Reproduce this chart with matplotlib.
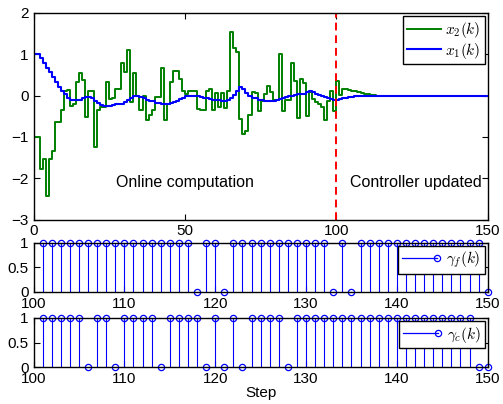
import matplotlib
matplotlib.use('Agg')
import matplotlib.pyplot as plt
from matplotlib.lines import Line2D
from matplotlib.legend_handler import HandlerBase

plt.rcParams['font.family'] = ['Liberation Sans', 'DejaVu Sans']
plt.rcParams['mathtext.fontset'] = 'cm'
plt.rcParams['font.size'] = 11

# state trajectories, k = 0..150
steps = list(range(151))
x2 = [
    -1.00, -1.00, -1.77, -1.53, -2.44, -1.53, -1.35, -0.65, -0.65, -0.36,
    0.10, 0.14, -0.24, -0.20, 0.32, 0.54, 0.38, -0.52, 0.12, 0.12,
    -1.25, -0.36, -0.27, -0.27, 0.32, -0.08, -0.06, 0.16, 0.16, 0.80,
    0.56, 1.10, -0.16, 0.54, -0.02, -0.35, 0.00, -0.59, -0.48, -0.35,
    -0.04, -0.04, 0.67, -0.59, -0.20, 0.32, 0.59, 0.59, 0.40, 0.10,
    0.05, 0.10, 0.12, 0.12, -0.32, -0.36, -0.36, 0.12, 0.16, -0.36,
    0.06, -0.28, 0.06, -0.30, 0.12, 1.53, 1.15, 1.05, -0.56, -0.93,
    -0.85, -0.48, 0.08, 0.06, -0.38, -0.12, 0.04, 0.24, 0.08, -0.10,
    -0.10, 1.00, -0.38, -0.10, -0.10, 0.80, 0.36, -0.54, 0.40, 0.30,
    -0.50, 0.08, -0.08, -0.16, -0.20, -0.28, -0.60, -0.12, 0.10, -0.38,
    0.35, 0.02, 0.17, 0.16, 0.14, 0.12, 0.10, 0.08, 0.06, 0.04,
    0.03, 0.02, 0.01, 0.00, 0.00, 0.00, 0.00, 0.00, 0.00, 0.00,
    0.00, 0.00, 0.00, 0.00, 0.00, 0.00, 0.00, 0.00, 0.00, 0.00,
    0.00, 0.00, 0.00, 0.00, 0.00, 0.00, 0.00, 0.00, 0.00, 0.00,
    0.00, 0.00, 0.00, 0.00, 0.00, 0.00, 0.00, 0.00, 0.00, 0.00,
    0.00,
]
x1 = [
    1.00, 1.00, 0.90, 0.80, 0.68, 0.57, 0.45, 0.33, 0.22, 0.12,
    0.05, -0.05, -0.10, -0.10, -0.10, -0.10, -0.06, -0.03, -0.03, -0.06,
    -0.12, -0.18, -0.22, -0.25, -0.25, -0.24, -0.22, -0.20, -0.20, -0.20,
    -0.16, -0.10, -0.06, -0.02, -0.02, -0.03, -0.05, -0.10, -0.12, -0.14,
    -0.18, -0.18, -0.20, -0.20, -0.20, -0.17, -0.15, -0.12, -0.08, -0.06,
    -0.02, -0.02, 0.00, 0.00, -0.02, -0.03, -0.05, -0.06, -0.08, -0.10,
    -0.10, -0.10, -0.12, -0.12, -0.10, -0.05, 0.02, 0.12, 0.22, 0.15,
    0.06, -0.02, -0.05, -0.06, -0.10, -0.10, -0.12, -0.12, -0.12, -0.12,
    -0.10, -0.08, -0.06, -0.04, -0.02, 0.00, 0.02, 0.04, 0.05, 0.05,
    0.08, 0.10, 0.08, 0.05, 0.02, 0.00, -0.03, -0.06, -0.08, -0.10,
    -0.10, -0.08, -0.06, -0.05, -0.04, -0.03, -0.02, -0.015, -0.01, -0.005,
    0.00, 0.00, 0.00, 0.00, 0.00, 0.00, 0.00, 0.00, 0.00, 0.00,
    0.00, 0.00, 0.00, 0.00, 0.00, 0.00, 0.00, 0.00, 0.00, 0.00,
    0.00, 0.00, 0.00, 0.00, 0.00, 0.00, 0.00, 0.00, 0.00, 0.00,
    0.00, 0.00, 0.00, 0.00, 0.00, 0.00, 0.00, 0.00, 0.00, 0.00,
    0.00,
]
switch_step = 100

# packet arrival indicators, k = 101..150
k_gamma = list(range(101, 151))
gamma_f = [1, 1, 1, 1, 1, 1, 1, 1, 1, 1,
           1, 1, 1, 1, 1, 1, 1, 0, 1, 1,
           0, 1, 1, 1, 1, 1, 1, 1, 1, 1,
           1, 1, 0, 1, 0, 1, 1, 1, 1, 1,
           1, 1, 1, 1, 1, 1, 1, 1, 1, 0]
gamma_c = [1, 1, 1, 1, 1, 0, 1, 1, 0, 1,
           1, 1, 1, 0, 1, 1, 1, 1, 0, 1,
           0, 1, 0, 1, 1, 1, 1, 0, 1, 1,
           1, 1, 1, 1, 1, 1, 1, 1, 1, 1,
           1, 1, 1, 1, 1, 1, 1, 1, 0, 0]


class StemLegendHandler(HandlerBase):
    def create_artists(self, legend, orig_handle, xdescent, ydescent,
                       width, height, fontsize, trans):
        y = height / 2 - ydescent
        ln = Line2D([-xdescent, width - xdescent], [y, y], color='b', lw=0.9)
        mk = Line2D([width - xdescent], [y], marker='o', mfc='none',
                    mec='b', ms=4.5, mew=0.9, linestyle='none')
        ln.set_transform(trans)
        mk.set_transform(trans)
        return [ln, mk]


def style_axes(ax):
    ax.tick_params(direction='in', top=True, right=True, length=4,
                   width=0.8, labelsize=11, pad=3.5)
    for s in ax.spines.values():
        s.set_linewidth(1.0)


fig = plt.figure(figsize=(5.03, 4.04), dpi=100)
W, H = 503.0, 404.0

# top: trajectories
ax = fig.add_axes([33.5 / W, 1 - 219.5 / H, 454.2 / W, 206.5 / H])
ax.step(steps, x2, where='post', color=(0, 0.5, 0), lw=1.4, label='$x_2(k)$')
ax.step(steps, x1, where='post', color='b', lw=1.5, label='$x_1(k)$')
ax.axvline(switch_step, color='r', ls='--', lw=1.4, dashes=(4, 2.5))
ax.set_xlim(0, 150)
ax.set_ylim(-3, 2)
ax.set_xticks([0, 50, 100, 150])
ax.set_yticks([-3, -2, -1, 0, 1, 2])
ax.text(50, -2.1, 'Online computation', ha='center', va='center', fontsize=11.5)
ax.text(126.3, -2.1, 'Controller updated', ha='center', va='center', fontsize=11.5)
leg = ax.legend(loc='upper right', fontsize=11, handlelength=2.2,
                borderpad=0.25, labelspacing=0.05, handletextpad=0.3,
                borderaxespad=0.2, fancybox=False, framealpha=1,
                edgecolor='k')
leg.get_frame().set_linewidth(1.0)
style_axes(ax)

# middle and bottom: stem plots
positions = [(242.7, 291.7), (317.7, 367.3)]
series = [(gamma_f, r'$\gamma_f(k)$'), (gamma_c, r'$\gamma_c(k)$')]
axes = []
for (top, bot), (vals, lab) in zip(positions, series):
    a = fig.add_axes([33.5 / W, 1 - bot / H, 454.2 / W, (bot - top) / H])
    markerline, stemlines, baseline = a.stem(k_gamma, vals, linefmt='b-',
                                             markerfmt='bo', basefmt=' ')
    markerline.set_markerfacecolor('none')
    markerline.set_markersize(4.5)
    markerline.set_markeredgewidth(0.9)
    markerline.set_clip_on(False)
    stemlines.set_linewidth(0.8)
    a.set_xlim(100, 150)
    a.set_ylim(0, 1)
    a.set_xticks(range(100, 151, 10))
    a.set_yticks([0, 0.5, 1])
    a.set_yticklabels(['0', '0.5', '1'])
    handle = Line2D([], [], color='b')
    lg = a.legend([handle], [lab], loc='upper right', fontsize=11,
                  handler_map={Line2D: StemLegendHandler()},
                  handlelength=2.3, borderpad=0.25, handletextpad=0.6,
                  borderaxespad=0.2, fancybox=False, framealpha=1,
                  edgecolor='k')
    lg.get_frame().set_linewidth(1.0)
    style_axes(a)
    axes.append(a)

axes[-1].set_xlabel('Step', fontsize=11, labelpad=0)

fig.savefig('out.png', dpi=100)
